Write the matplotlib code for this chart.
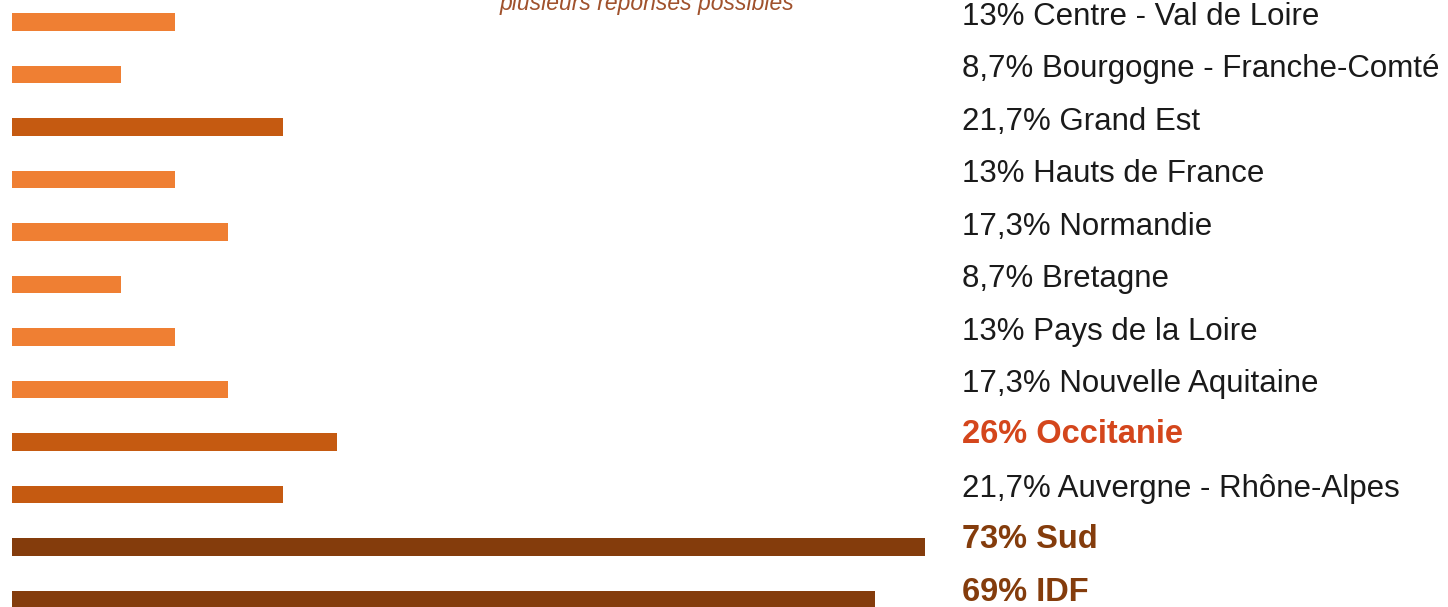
import numpy as np
import matplotlib.pyplot as plt

regions = ['Centre - Val de Loire', 'Bourgogne - Franche-Comté', 'Grand Est',
           'Hauts de France', 'Normandie', 'Bretagne', 'Pays de la Loire',
           'Nouvelle Aquitaine', 'Occitanie', 'Auvergne - Rhône-Alpes', 'Sud', 'IDF']
values = [13, 8.7, 21.7, 13, 17.3, 8.7, 13, 17.3, 26, 21.7, 73, 69]
value_labels = ['13%', '8,7%', '21,7%', '13%', '17,3%', '8,7%', '13%', '17,3%',
                '26%', '21,7%', '73%', '69%']
highlight = {'Occitanie': '#d4461c', 'Sud': '#843c0c', 'IDF': '#843c0c'}
subtitle = 'plusieurs réponses possibles'


def bar_color(v):
    # shade gets darker as the share grows
    if v >= 60:
        return '#843c0c'
    if v >= 20:
        return '#c55a11'
    return '#ef7f33'


W, H = 1448, 607
fig = plt.figure(figsize=(W / 100, H / 100), dpi=100)
ax = fig.add_axes([0, 0, 1, 1])

y = np.arange(len(values))
ax.barh(y, values, height=0.33, color=[bar_color(v) for v in values], left=0)

px = 12.5  # pixels per percent
ax.set_xlim(-12 / px, (W - 12) / px)
ax.set_ylim((H - 22) / 52.5, -22 / 52.5)
ax.axis('off')

label_x = (962 - 12) / px
for i, (reg, lab) in enumerate(zip(regions, value_labels)):
    if reg in highlight:
        ax.text(label_x, i - 0.14, f"{lab} {reg}", ha='left', va='center', fontsize=23.5,
                fontweight='bold', color=highlight[reg], family='Liberation Sans')
    else:
        ax.text(label_x, i - 0.10, f"{lab} {reg}", ha='left', va='center', fontsize=22.5,
                color='#1a1a1a', family='Liberation Sans')

fig.text(647 / W, 1 - 10 / H, subtitle, ha='center', va='baseline', fontsize=16.5,
         style='italic', color='#a0522d', family='Liberation Sans')

fig.savefig('out.png', dpi=100)
